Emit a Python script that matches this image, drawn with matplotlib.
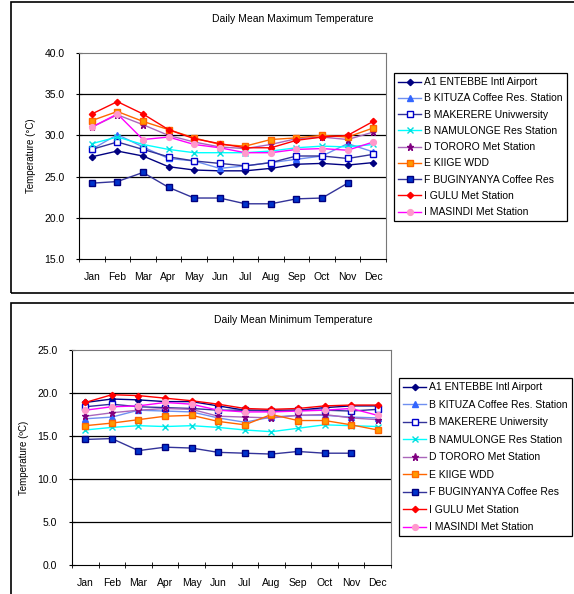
import numpy as np
import matplotlib
matplotlib.use('Agg')
import matplotlib.pyplot as plt
from matplotlib.patches import Rectangle

plt.rcParams['font.family'] = ['Liberation Sans', 'DejaVu Sans']

months = ['Jan', 'Feb', 'Mar', 'Apr', 'May', 'Jun',
          'Jul', 'Aug', 'Sep', 'Oct', 'Nov', 'Dec']
stations = ['A1 ENTEBBE Intl Airport', 'B KITUZA Coffee Res. Station',
            'B MAKERERE Univwersity', 'B NAMULONGE Res Station',
            'D TORORO Met Station', 'E KIIGE WDD',
            'F BUGINYANYA Coffee Res', 'I GULU Met Station',
            'I MASINDI Met Station']
stations_min = list(stations)
stations_min[2] = 'B MAKERERE Uniwersity'

# daily mean maximum temperature (deg C)
tmax_entebbe = [27.4, 28.1, 27.5, 26.2, 25.8, 25.7, 25.7, 26.0, 26.5, 26.6, 26.4, 26.7]
tmax_kituza = [28.3, 30.1, 28.6, 27.2, 26.9, 26.0, 26.3, 26.7, 27.1, 27.5, 29.0, 28.0]
tmax_makerere = [28.3, 29.2, 28.3, 27.4, 26.9, 26.6, 26.3, 26.7, 27.5, 27.5, 27.2, 27.7]
tmax_namulonge = [29.0, 29.8, 28.9, 28.3, 27.9, 27.9, 27.9, 28.1, 28.5, 28.7, 28.6, 28.9]
tmax_tororo = [31.0, 32.5, 31.3, 30.0, 29.2, 28.6, 28.4, 28.9, 29.6, 29.8, 29.5, 30.4]
tmax_kiige = [31.8, 32.9, 31.7, 30.7, 29.7, 28.9, 28.7, 29.5, 29.7, 30.0, 29.8, 30.9]
tmax_buginyanya = [24.2, 24.4, 25.5, 23.7, 22.4, 22.4, 21.7, 21.7, 22.3, 22.4, 24.2, np.nan]
tmax_gulu = [32.6, 34.1, 32.6, 30.7, 29.6, 29.0, 28.5, 28.5, 29.4, 29.8, 30.0, 31.7]
tmax_masindi = [31.0, 32.6, 29.5, 29.8, 28.9, 28.5, 27.9, 27.9, 28.3, 28.4, 28.2, 29.2]

# daily mean minimum temperature (deg C)
tmin_entebbe = [18.9, 19.3, 19.2, 19.0, 19.0, 18.5, 18.0, 18.0, 18.0, 18.3, 18.5, 18.5]
tmin_kituza = [17.0, 17.2, 18.0, 17.9, 17.8, 17.1, 16.6, 17.2, 17.4, 17.4, 17.2, 17.1]
tmin_makerere = [18.4, 18.7, 18.4, 18.3, 18.2, 18.0, 18.0, 17.9, 18.0, 18.0, 17.9, 18.1]
tmin_namulonge = [15.7, 16.0, 16.2, 16.1, 16.2, 16.0, 15.7, 15.5, 15.9, 16.3, 16.2, 16.1]
tmin_tororo = [17.3, 17.7, 18.0, 18.2, 18.1, 17.3, 17.2, 17.1, 17.4, 17.5, 17.1, 16.9]
tmin_kiige = [16.2, 16.5, 16.9, 17.3, 17.4, 16.7, 16.3, 17.5, 16.8, 16.8, 16.3, 15.7]
tmin_buginyanya = [14.6, 14.7, 13.3, 13.7, 13.6, 13.1, 13.0, 12.9, 13.2, 13.0, 13.0, np.nan]
tmin_gulu = [18.9, 19.8, 19.7, 19.4, 19.1, 18.7, 18.2, 18.1, 18.2, 18.5, 18.6, 18.6]
tmin_masindi = [18.0, 18.4, 18.5, 18.9, 18.7, 18.0, 17.8, 17.8, 17.9, 18.0, 18.2, 17.4]

tmax = [tmax_entebbe, tmax_kituza, tmax_makerere, tmax_namulonge, tmax_tororo,
        tmax_kiige, tmax_buginyanya, tmax_gulu, tmax_masindi]
tmin = [tmin_entebbe, tmin_kituza, tmin_makerere, tmin_namulonge, tmin_tororo,
        tmin_kiige, tmin_buginyanya, tmin_gulu, tmin_masindi]

# line colour, marker, marker face, marker edge, marker size
styles = [
    ('#000080', 'D', '#000080', '#000080', 3.2),
    ('#6f8ff0', '^', '#3366ff', '#3366ff', 4.2),
    ('#333399', 's', 'white', '#0000cc', 4.2),
    ('#00ffff', 'x', '#00e0e0', '#00e0e0', 4.2),
    ('#aa66bb', '*', '#800080', '#800080', 5.2),
    ('#ff6600', 's', '#ff9900', '#ff6600', 4.2),
    ('#333399', 's', '#0033cc', '#000080', 4.2),
    ('#ff0000', 'D', '#ff0000', '#ff0000', 3.2),
    ('#ff00ff', 'o', '#ff99cc', '#ff99cc', 4.2),
]

W, H = 574, 594
fig = plt.figure(figsize=(W / 100, H / 100), dpi=100)

# outer chart frames
fig.add_artist(Rectangle((11 / W, 1 - 293 / H), 1.0, 291 / H,
                         transform=fig.transFigure, fill=False,
                         edgecolor='black', linewidth=1.2))
fig.add_artist(Rectangle((11 / W, -0.05), 1.0, 1 - 303 / H + 0.05,
                         transform=fig.transFigure, fill=False,
                         edgecolor='black', linewidth=1.2))


def draw(rect, data, labels, ylim, title, title_y, ylabel, leg_xy, spacing):
    ax = fig.add_axes(rect)
    x = np.arange(len(months))
    lines = []
    for vals, lab, (lc, mk, mf, me, ms) in zip(data, labels, styles):
        ln, = ax.plot(x, vals, color=lc, linewidth=1.0, marker=mk,
                      markerfacecolor=mf, markeredgecolor=me,
                      markersize=ms, markeredgewidth=1.0, label=lab)
        lines.append(ln)
    ax.set_xlim(-0.5, 11.5)
    ax.set_ylim(*ylim)
    yt = np.arange(ylim[0], ylim[1] + 0.1, 5)
    ax.set_yticks(yt)
    ax.set_yticklabels(['{:.1f}'.format(v) for v in yt], fontsize=7.5)
    for v in yt[1:-1]:
        ax.axhline(v, color='black', linewidth=0.9, zorder=0)
    ax.set_xticks(x)
    ax.set_xticklabels(months, fontsize=7.5)
    ax.set_xticks(np.arange(-0.5, 12, 1), minor=True)
    ax.tick_params(axis='x', which='major', length=0, pad=9)
    ax.tick_params(axis='x', which='minor', length=5, direction='inout')
    ax.tick_params(axis='y', length=5, direction='inout', pad=8)
    for s in ['top', 'right']:
        ax.spines[s].set_color('#777777')
    fig.text(293 / W, 1 - title_y / H, title, fontsize=7.5,
             ha='center', va='center')
    ax.set_ylabel(ylabel, fontsize=7, labelpad=6)
    leg = ax.legend(handles=lines, loc='upper left',
                    bbox_to_anchor=(leg_xy[0] / W, 1 - leg_xy[1] / H),
                    bbox_transform=fig.transFigure, borderaxespad=0,
                    fontsize=7.5, labelspacing=spacing, handlelength=2.2,
                    handletextpad=0.3, borderpad=0.4, fancybox=False,
                    frameon=True, edgecolor='black', framealpha=1)
    leg.get_frame().set_linewidth(0.9)
    return ax


draw([79 / W, 1 - 259 / H, 307 / W, 206 / H], tmax, stations, (15, 40),
     'Daily Mean Maximum Temperature', 19, 'Temperature (\u00b0C)', (394, 73), 0.6)
draw([72 / W, 1 - 565 / H, 319 / W, 215 / H], tmin, stations_min, (0, 25),
     'Daily Mean Minimum Temperature', 320, 'Temperature (\u00baC)', (399, 378), 0.72)

fig.savefig('out.png', dpi=100)
